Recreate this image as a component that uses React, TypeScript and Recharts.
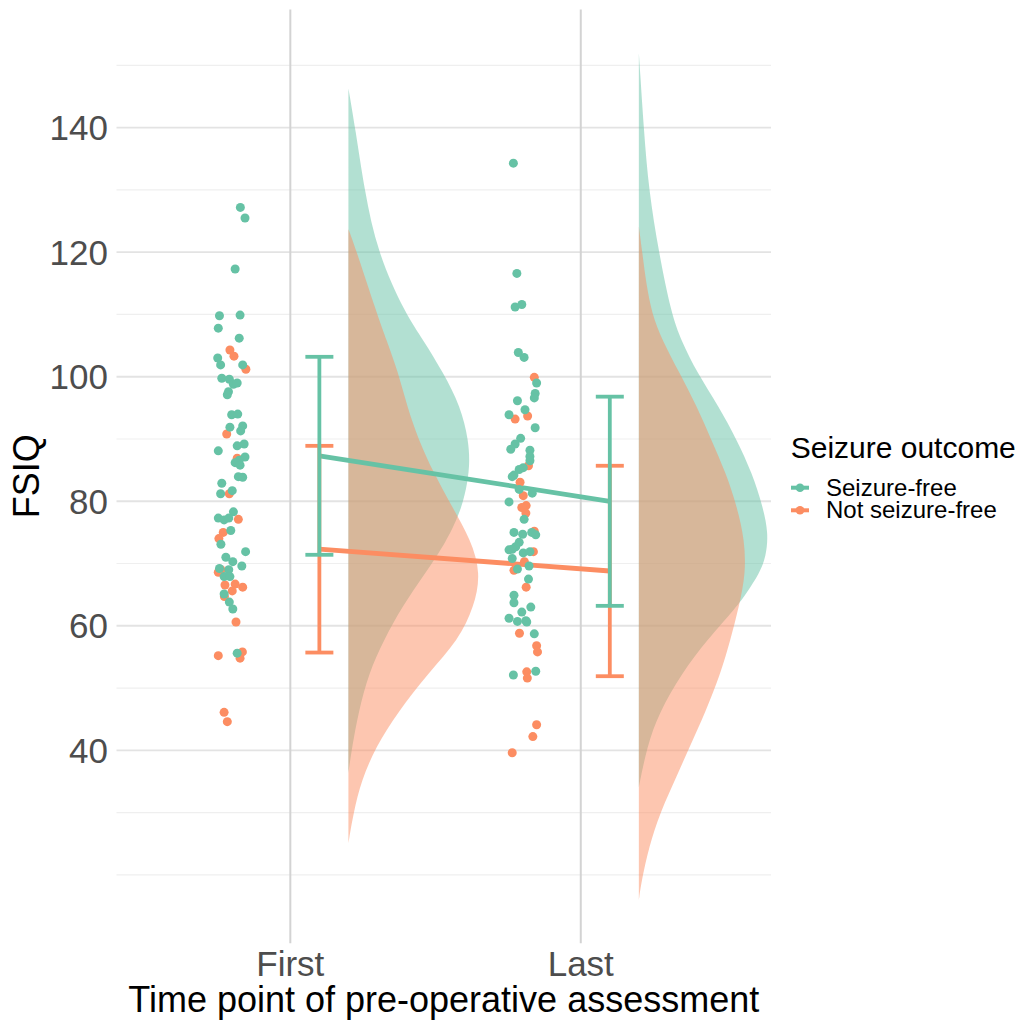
import {
  ComposedChart,
  XAxis,
  YAxis,
  CartesianGrid,
  Area,
  Line,
  Scatter,
  ErrorBar,
} from "recharts";

const timePoints = ["First", "Last"];
const outcomes = ["Seizure-free", "Not seizure-free"];
const COLORS = ["#66C2A5", "#FC8D62"];

const yTicks = [40, 60, 80, 100, 120, 140];
const yMinor = [20, 30, 50, 70, 90, 110, 130, 150];

// individual scores, jittered left of each time point: [x, FSIQ]
const firstFree = [
  [0.828, 127.2], [0.844, 125.5], [0.81, 117.3], [0.756, 109.8], [0.827, 109.9],
  [0.752, 107.8], [0.824, 106.2], [0.75, 103.0], [0.76, 101.9], [0.836, 101.9],
  [0.764, 99.75], [0.79, 99.6], [0.804, 98.8], [0.817, 99.0], [0.787, 97.6],
  [0.783, 97.1], [0.798, 93.9], [0.819, 94.0], [0.792, 91.9], [0.836, 92.1],
  [0.829, 91.3], [0.752, 88.1], [0.817, 88.9], [0.841, 89.2], [0.844, 87.1],
  [0.824, 86.6], [0.81, 86.2], [0.827, 85.8], [0.821, 83.95], [0.836, 83.85],
  [0.764, 82.9], [0.76, 81.2], [0.8, 81.7], [0.804, 78.3], [0.752, 77.3],
  [0.772, 77.0], [0.788, 77.3], [0.795, 75.3], [0.761, 73.1], [0.846, 71.9],
  [0.778, 71.0], [0.802, 70.3], [0.833, 69.6], [0.756, 69.2], [0.788, 69.0],
  [0.772, 67.9], [0.792, 67.9], [0.772, 65.1], [0.79, 63.8], [0.802, 62.7],
  [0.817, 55.6],
];
const firstNotFree = [
  [0.792, 104.3], [0.806, 103.3], [0.847, 101.2], [0.781, 90.8], [0.817, 86.9],
  [0.79, 81.2], [0.821, 77.1], [0.769, 75.0], [0.754, 74.0], [0.752, 68.6],
  [0.761, 69.0], [0.775, 66.55], [0.81, 66.7], [0.836, 66.2], [0.8, 65.6],
  [0.773, 64.7], [0.813, 60.6], [0.752, 55.2], [0.835, 55.8], [0.827, 54.8],
  [0.772, 46.1], [0.783, 44.6],
];
const lastFree = [
  [1.768, 134.3], [1.78, 116.6], [1.774, 111.2], [1.797, 111.6], [1.785, 103.9],
  [1.805, 103.1], [1.848, 99.0], [1.843, 97.3], [1.84, 96.6], [1.782, 96.15],
  [1.808, 94.7], [1.753, 93.9], [1.843, 91.8], [1.793, 90.1], [1.774, 89.2],
  [1.759, 88.35], [1.825, 88.2], [1.825, 87.2], [1.825, 86.5], [1.802, 85.4],
  [1.788, 85.1], [1.77, 84.2], [1.764, 83.95], [1.788, 81.9], [1.833, 81.3],
  [1.753, 79.9], [1.805, 77.1], [1.77, 75.0], [1.8, 74.7], [1.831, 75.0],
  [1.845, 74.6], [1.788, 73.4], [1.776, 72.7], [1.753, 72.2], [1.764, 72.3],
  [1.802, 71.7], [1.825, 71.9], [1.764, 70.8], [1.822, 69.6], [1.782, 69.1],
  [1.82, 67.5], [1.77, 64.9], [1.77, 63.7], [1.828, 63.0], [1.797, 62.2],
  [1.753, 61.2], [1.782, 60.7], [1.811, 60.8], [1.814, 60.6], [1.84, 58.7],
  [1.768, 52.1], [1.845, 52.7],
];
const lastNotFree = [
  [1.84, 99.9], [1.774, 93.2], [1.817, 93.7], [1.82, 85.7], [1.791, 83.05],
  [1.802, 80.9], [1.812, 79.3], [1.797, 79.0], [1.811, 78.1], [1.84, 75.2],
  [1.837, 71.9], [1.806, 70.3], [1.77, 68.9], [1.812, 66.2], [1.789, 58.8],
  [1.848, 56.8], [1.851, 55.8], [1.814, 52.6], [1.816, 51.6], [1.848, 44.1],
  [1.835, 42.2], [1.764, 39.6],
];

// group mean and SD at First / Last
const freeMean = [87.3, 80.0];
const freeSd = [15.9, 16.8];
const notFreeMean = [72.3, 68.8];
const notFreeSd = [16.6, 16.9];

// half-violin profiles: [FSIQ, density width in x units]
const firstFreeDensity = [
  [146.3, 0], [139.8, 0.024], [130.0, 0.055], [119.9, 0.1], [110.1, 0.196],
  [105.9, 0.258], [100.6, 0.327], [95.2, 0.386], [89.8, 0.414], [85.6, 0.418],
  [81.8, 0.405], [79.1, 0.389], [77.0, 0.372], [73.8, 0.34], [68.4, 0.265],
  [63.1, 0.185], [57.7, 0.122], [52.4, 0.07], [46.0, 0.034], [40.6, 0.013],
  [36.4, 0],
];
const firstNotFreeDensity = [
  [123.7, 0], [119.9, 0.03], [110.0, 0.099], [105.9, 0.131], [100.6, 0.172],
  [95.2, 0.202], [89.8, 0.242], [84.5, 0.294], [79.1, 0.357], [73.8, 0.422],
  [68.4, 0.456], [63.1, 0.433], [57.7, 0.379], [52.4, 0.275], [46.0, 0.168],
  [40.6, 0.095], [35.2, 0.045], [29.9, 0.017], [25.1, 0],
];
const lastFreeDensity = [
  [152.0, 0], [149.9, 0.003], [139.8, 0.017], [130.0, 0.034], [119.9, 0.069],
  [110.1, 0.112], [105.9, 0.145], [100.6, 0.201], [95.2, 0.275], [89.8, 0.338],
  [84.5, 0.39], [79.1, 0.427], [74.9, 0.446], [71.1, 0.438], [68.4, 0.415],
  [65.2, 0.37], [63.1, 0.338], [57.7, 0.234], [52.4, 0.148], [46.0, 0.069],
  [40.6, 0.028], [34.1, 0],
];
const lastNotFreeDensity = [
  [124.1, 0], [119.9, 0.012], [115.0, 0.025], [110.1, 0.045], [105.9, 0.08],
  [100.6, 0.14], [95.2, 0.2], [89.8, 0.25], [84.5, 0.3], [79.1, 0.338],
  [73.8, 0.364], [68.4, 0.368], [63.1, 0.345], [57.7, 0.315], [52.4, 0.282],
  [46.0, 0.228], [40.6, 0.175], [36.3, 0.135], [29.9, 0.072], [24.5, 0.035],
  [19.2, 0.01], [16.0, 0],
];

const CLOUD_NUDGE = 0.2;
const MEAN_NUDGE = 0.1;

const toPoints = (rows: number[][]) => rows.map(([t, fsiq]) => ({ t, fsiq }));
const toCloud = (rows: number[][], time: number) =>
  rows.map(([fsiq, w]) => ({
    fsiq,
    span: [time + CLOUD_NUDGE, time + CLOUD_NUDGE + w],
  }));
const toMeans = (means: number[], sds: number[]) =>
  means.map((m, i) => ({ t: i + 1 + MEAN_NUDGE, fsiq: m, sd: sds[i] }));

const dot = (color: string) => (props: any) =>
  <circle cx={props.cx} cy={props.cy} r={4.5} fill={color} />;

const FONT = "'Liberation Sans', Arial, Helvetica, sans-serif";

export default function App() {
  return (
    <div style={{ position: "absolute", left: 0, top: 0, width: 1019, height: 1021, background: "#fff", fontFamily: FONT }}>
      <ComposedChart
        width={1019}
        height={1021}
        layout="vertical"
        margin={{ top: 9.4, right: 248, bottom: 7.7, left: 16.5 }}
      >
        <CartesianGrid horizontalValues={yMinor} vertical={false} stroke="#EFEFEF" strokeWidth={1.2} />
        <CartesianGrid horizontalValues={yTicks} vertical={false} stroke="#E3E3E3" strokeWidth={1.8} />
        <CartesianGrid verticalValues={[1, 2]} horizontal={false} stroke="#D3D3D3" strokeWidth={2} />
        <XAxis
          type="number"
          dataKey="t"
          domain={[0.4015, 2.655]}
          ticks={[1, 2]}
          interval={0}
          tickFormatter={(v) => timePoints[v - 1]}
          allowDataOverflow
          axisLine={false}
          tickLine={false}
          tickSize={0}
          tickMargin={8}
          height={70}
          tick={{ fontSize: 35, fill: "#4D4D4D" }}
          label={{
            value: "Time point of pre-operative assessment",
            position: "insideBottom",
            offset: 1.6,
            fontSize: 36,
            fill: "#000",
          }}
        />
        <YAxis
          type="number"
          dataKey="fsiq"
          domain={[9, 159]}
          reversed
          ticks={yTicks}
          interval={0}
          allowDataOverflow
          axisLine={false}
          tickLine={false}
          tickSize={0}
          tickMargin={8.5}
          width={100}
          tick={{ fontSize: 35, fill: "#4D4D4D" }}
          label={{ value: "FSIQ", angle: -90, position: "center", dx: -40, fontSize: 36, fill: "#000" }}
        />

        {/* rain clouds */}
        <Area data={toCloud(firstFreeDensity, 1)} dataKey="span" type="basis" stroke="none" fill={COLORS[0]} fillOpacity={0.5} isAnimationActive={false} />
        <Area data={toCloud(lastFreeDensity, 2)} dataKey="span" type="basis" stroke="none" fill={COLORS[0]} fillOpacity={0.5} isAnimationActive={false} />
        <Area data={toCloud(firstNotFreeDensity, 1)} dataKey="span" type="basis" stroke="none" fill={COLORS[1]} fillOpacity={0.5} isAnimationActive={false} />
        <Area data={toCloud(lastNotFreeDensity, 2)} dataKey="span" type="basis" stroke="none" fill={COLORS[1]} fillOpacity={0.5} isAnimationActive={false} />

        {/* mean trajectories */}
        <Line data={toMeans(freeMean, freeSd)} dataKey="t" type="linear" stroke={COLORS[0]} strokeWidth={4.8} dot={false} isAnimationActive={false} />
        <Line data={toMeans(notFreeMean, notFreeSd)} dataKey="t" type="linear" stroke={COLORS[1]} strokeWidth={4.8} dot={false} isAnimationActive={false} />

        {/* rain */}
        <Scatter data={toPoints(firstNotFree)} shape={dot(COLORS[1])} isAnimationActive={false} />
        <Scatter data={toPoints(lastNotFree)} shape={dot(COLORS[1])} isAnimationActive={false} />
        <Scatter data={toPoints(firstFree)} shape={dot(COLORS[0])} isAnimationActive={false} />
        <Scatter data={toPoints(lastFree)} shape={dot(COLORS[0])} isAnimationActive={false} />

        {/* mean +/- SD */}
        <Scatter data={toMeans(notFreeMean, notFreeSd)} shape={() => <g />} isAnimationActive={false}>
          <ErrorBar dataKey="sd" direction="y" width={14} stroke={COLORS[1]} strokeWidth={3.8} isAnimationActive={false} />
        </Scatter>
        <Scatter data={toMeans(freeMean, freeSd)} shape={() => <g />} isAnimationActive={false}>
          <ErrorBar dataKey="sd" direction="y" width={14} stroke={COLORS[0]} strokeWidth={3.8} isAnimationActive={false} />
        </Scatter>
      </ComposedChart>

      <svg
        width={1019}
        height={1021}
        style={{ position: "absolute", left: 0, top: 0, pointerEvents: "none" }}
        fontFamily={FONT}
      >
        <text x={790.7} y={458.3} fontSize={30} fill="#000">
          Seizure outcome
        </text>
        {outcomes.map((name, i) => (
          <g key={name}>
            <line x1={791} x2={809} y1={487.7 + i * 22.6} y2={487.7 + i * 22.6} stroke={COLORS[i]} strokeWidth={4} />
            <circle cx={800} cy={487.7 + i * 22.6} r={4.3} fill={COLORS[i]} />
            <text x={826} y={496 + i * 22.4} fontSize={24} fill="#000">
              {name}
            </text>
          </g>
        ))}
      </svg>
    </div>
  );
}
